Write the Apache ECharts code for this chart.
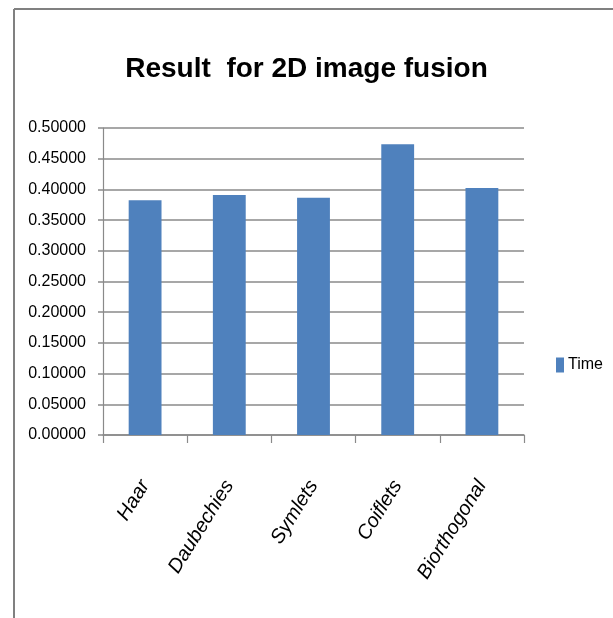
<!DOCTYPE html>
<html>
<head>
<meta charset="utf-8">
<script src="https://cdn.jsdelivr.net/npm/echarts@6/dist/echarts.min.js"></script>
<style>
html,body{margin:0;padding:0;background:#fff;}
#chart{width:613px;height:618px;}
</style>
</head>
<body>
<div id="chart"></div>
<script>
var titleText = 'Result  for 2D image fusion';
var categories = ['Haar', 'Daubechies', 'Symlets', 'Coiflets', 'Biorthogonal'];
var seriesName = 'Time';
var timeValues = [0.3822, 0.3909, 0.3865, 0.4734, 0.4023];
var yMin = 0, yMax = 0.5, yStep = 0.05;

var chart = echarts.init(document.getElementById('chart'));
var axisGray = '#8a8a8a';
var font = '"Liberation Sans", Arial, sans-serif';
chart.setOption({
  animation: false,
  backgroundColor: '#ffffff',
  title: {
    text: titleText,
    left: 'center',
    top: 50,
    textStyle: { fontFamily: font, fontWeight: 'bold', fontSize: 28, color: '#000' }
  },
  legend: {
    data: [seriesName],
    orient: 'vertical',
    left: 551,
    top: 352,
    itemWidth: 8,
    itemHeight: 15,
    itemGap: 0,
    icon: 'rect',
    textStyle: { fontFamily: font, fontSize: 16, color: '#000', padding: [0, 0, 0, -1] }
  },
  grid: { left: 103, right: 89, top: 128, bottom: 183, containLabel: false },
  xAxis: {
    type: 'category',
    data: categories,
    axisLine: { lineStyle: { color: axisGray, width: 1.5 } },
    axisTick: { show: true, length: 8, lineStyle: { color: axisGray, width: 1.2 } },
    axisLabel: {
      rotate: 58,
      margin: 47,
      fontFamily: font,
      fontStyle: 'italic',
      fontSize: 20,
      color: '#000',
      interval: 0
    }
  },
  yAxis: {
    type: 'value',
    min: yMin,
    max: yMax,
    interval: yStep,
    axisLine: { show: true, lineStyle: { color: axisGray, width: 1.2 } },
    axisTick: { show: true, length: 5, lineStyle: { color: axisGray, width: 1.5 } },
    splitLine: { lineStyle: { color: axisGray, width: 1.5 } },
    axisLabel: {
      margin: 17,
      fontFamily: font,
      fontSize: 16,
      color: '#000',
      formatter: function (v) { return v.toFixed(5); }
    }
  },
  series: [{
    name: seriesName,
    type: 'bar',
    data: timeValues,
    barWidth: '39%',
    itemStyle: { color: '#4F81BD' }
  }],
  graphic: [
    { type: 'line', shape: { x1: 14, y1: 9, x2: 613, y2: 9 }, style: { stroke: '#808080', lineWidth: 2 }, silent: true },
    { type: 'line', shape: { x1: 14, y1: 9, x2: 14, y2: 618 }, style: { stroke: '#808080', lineWidth: 2 }, silent: true }
  ]
});
</script>
</body>
</html>
